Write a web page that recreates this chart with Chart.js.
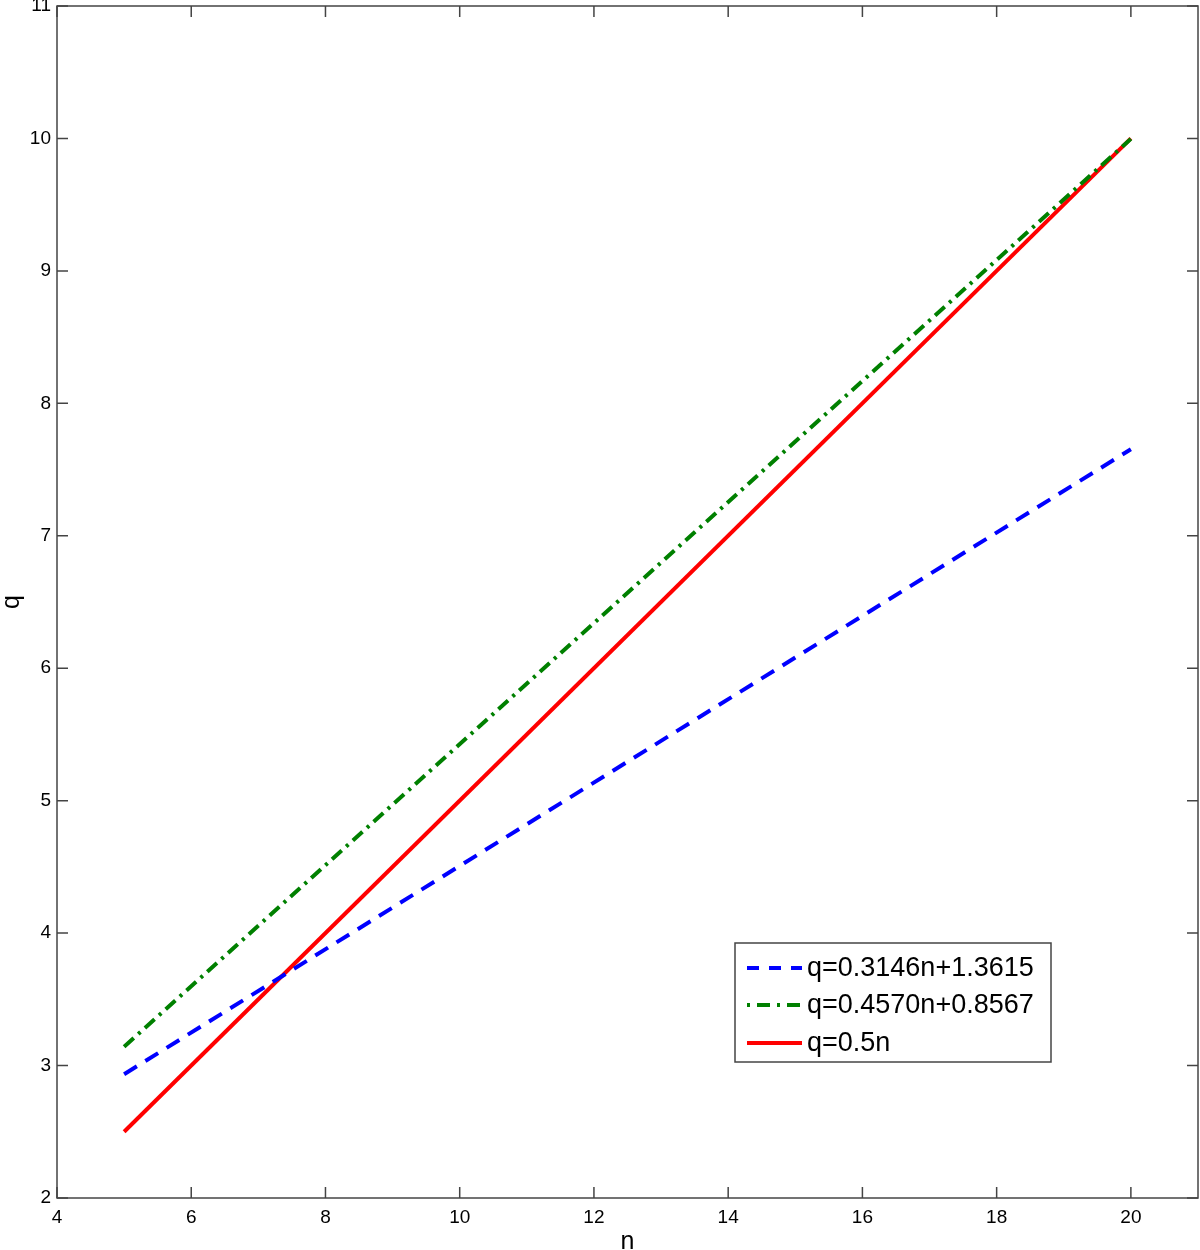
<!DOCTYPE html>
<html>
<head>
<meta charset="utf-8">
<script src="https://cdn.jsdelivr.net/npm/chart.js@4.4.0/dist/chart.umd.min.js"></script>
<style>
  html, body { margin: 0; padding: 0; background: #fff; }
  #wrap { width: 1200px; height: 1250px; }
</style>
</head>
<body>
<div id="wrap"><canvas id="fit-chart"></canvas></div>
<script>
// Data
const nValues = [5, 20];
const blueFit = [2.9345, 7.6535];   // q=0.3146n+1.3615
const greenFit = [3.1417, 9.9967];  // q=0.4570n+0.8567
const redLine = [2.5, 10];          // q=0.5n
const xTicks = [4, 6, 8, 10, 12, 14, 16, 18, 20];
const yTicks = [2, 3, 4, 5, 6, 7, 8, 9, 10, 11];
const seriesLabels = ['q=0.3146n+1.3615', 'q=0.4570n+0.8567', 'q=0.5n'];

const FONT = 'Liberation Sans, Arial, Helvetica, sans-serif';

function toPoints(ys) {
    return nValues.map((n, i) => ({ x: n, y: ys[i] }));
}

/**
 * Box around the plot area with inward ticks on all four sides
 */
const boxPlugin = {
    id: 'boxPlugin',
    afterDraw(chart) {
        const ctx = chart.ctx;
        const a = chart.chartArea;
        const xs = chart.scales.x;
        const ys = chart.scales.y;
        const len = 11;
        ctx.save();
        ctx.strokeStyle = '#444';
        ctx.lineWidth = 1.5;
        ctx.strokeRect(a.left, a.top, a.right - a.left, a.bottom - a.top);
        ctx.beginPath();
        xTicks.forEach(v => {
            const px = xs.getPixelForValue(v);
            ctx.moveTo(px, a.bottom); ctx.lineTo(px, a.bottom - len);
            ctx.moveTo(px, a.top); ctx.lineTo(px, a.top + len);
        });
        yTicks.forEach(v => {
            const py = ys.getPixelForValue(v);
            ctx.moveTo(a.left, py); ctx.lineTo(a.left + len, py);
            ctx.moveTo(a.right, py); ctx.lineTo(a.right - len, py);
        });
        ctx.stroke();
        ctx.restore();
    }
};

/**
 * Legend box inside the plot, lower right
 */
const legendBoxPlugin = {
    id: 'legendBoxPlugin',
    afterDraw(chart) {
        const ctx = chart.ctx;
        const left = 735, top = 943, width = 316, height = 119;
        const rowY = [968, 1005, 1043];
        ctx.save();
        ctx.fillStyle = '#fff';
        ctx.fillRect(left, top, width, height);
        ctx.strokeStyle = '#444';
        ctx.lineWidth = 1.5;
        ctx.strokeRect(left, top, width, height);
        chart.data.datasets.forEach((ds, i) => {
            ctx.strokeStyle = ds.borderColor;
            ctx.lineWidth = ds.borderWidth;
            ctx.setLineDash(ds.legendDash || []);
            ctx.beginPath();
            ctx.moveTo(747, rowY[i]);
            ctx.lineTo(802, rowY[i]);
            ctx.stroke();
            ctx.setLineDash([]);
            ctx.fillStyle = '#000';
            ctx.font = '27px ' + FONT;
            ctx.textBaseline = 'middle';
            ctx.textAlign = 'left';
            ctx.fillText(ds.label, 807, rowY[i] + 1);
        });
        ctx.restore();
    }
};

const ctx = document.getElementById('fit-chart').getContext('2d');
new Chart(ctx, {
    type: 'scatter',
    data: {
        datasets: [
            {
                label: seriesLabels[0],
                data: toPoints(blueFit),
                showLine: true,
                borderColor: '#0000ff',
                borderWidth: 4,
                borderDash: [15, 10],
                legendDash: [12, 10],
                pointRadius: 0
            },
            {
                label: seriesLabels[1],
                data: toPoints(greenFit),
                showLine: true,
                borderColor: '#008000',
                borderWidth: 4,
                borderDash: [13, 6, 3, 6],
                legendDash: [3, 7, 13, 7],
                pointRadius: 0
            },
            {
                label: seriesLabels[2],
                data: toPoints(redLine),
                showLine: true,
                borderColor: '#ff0000',
                borderWidth: 4,
                pointRadius: 0
            }
        ]
    },
    options: {
        responsive: true,
        maintainAspectRatio: false,
        animation: false,
        layout: { padding: { top: 6, right: 2, left: 0, bottom: 0 } },
        plugins: {
            legend: { display: false },
            tooltip: { enabled: false }
        },
        scales: {
            x: {
                type: 'linear',
                min: 4,
                max: 21,
                grid: { display: false, drawTicks: false },
                border: { display: false },
                afterBuildTicks: scale => { scale.ticks = xTicks.map(v => ({ value: v })); },
                afterFit: scale => {
                    scale.height = 52;
                    scale.paddingLeft = 0;
                    scale.paddingRight = 0;
                },
                ticks: {
                    color: '#000',
                    padding: 8,
                    maxRotation: 0,
                    font: { family: FONT, size: 19 }
                },
                title: {
                    display: true,
                    text: 'n',
                    color: '#000',
                    padding: { top: 0, bottom: -5 },
                    font: { family: FONT, size: 25, lineHeight: 1 }
                }
            },
            y: {
                type: 'linear',
                min: 2,
                max: 11,
                grid: { display: false, drawTicks: false },
                border: { display: false },
                afterBuildTicks: scale => { scale.ticks = yTicks.map(v => ({ value: v })); },
                afterFit: scale => {
                    scale.width = 57;
                    scale.paddingTop = 0;
                    scale.paddingBottom = 0;
                },
                ticks: {
                    color: '#000',
                    padding: 6,
                    font: { family: FONT, size: 19 }
                },
                title: {
                    display: true,
                    text: 'q',
                    color: '#000',
                    padding: { top: 0, bottom: 0 },
                    font: { family: FONT, size: 25, lineHeight: 1 }
                }
            }
        }
    },
    plugins: [boxPlugin, legendBoxPlugin]
});
</script>
</body>
</html>
